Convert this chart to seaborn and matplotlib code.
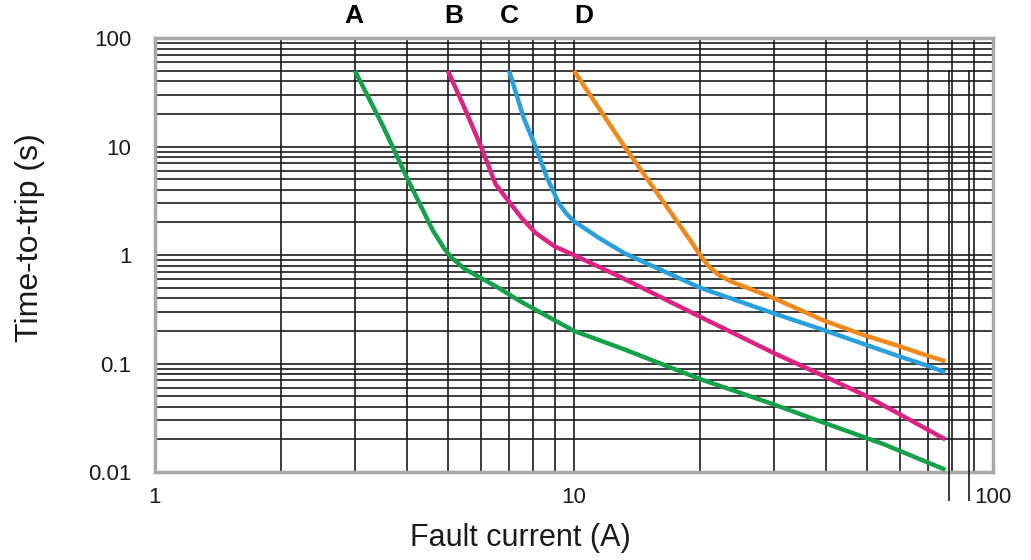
import matplotlib
matplotlib.use("Agg")
import matplotlib.pyplot as plt
import matplotlib.ticker as ticker
import seaborn as sns
import pandas as pd

# trip curves (current in A, time in s)
a_current = [3, 3.5, 4, 4.6, 4.9, 5.1, 5.5, 6.6, 7.4, 10, 13.2, 20, 30, 40, 55, 77]
a_time = [50, 15.5, 5.1, 1.7, 1.15, 0.95, 0.74, 0.5, 0.38, 0.2, 0.135, 0.072, 0.042, 0.028, 0.018, 0.0105]

b_current = [5, 5.5, 6, 6.5, 7, 7.5, 8.1, 9, 10, 13, 20, 30, 40, 50, 60, 77]
b_time = [50, 22, 10, 4.5, 3.1, 2.2, 1.6, 1.2, 1.0, 0.62, 0.27, 0.125, 0.075, 0.05, 0.034, 0.02]

c_current = [7, 7.6, 8.1, 8.6, 9.2, 9.6, 10, 11.5, 13.2, 20, 30, 40, 50, 60, 70, 77]
c_time = [50, 18, 10, 5.3, 3.0, 2.4, 2.05, 1.43, 1.04, 0.5, 0.29, 0.2, 0.148, 0.116, 0.095, 0.083]

d_current = [10, 13.2, 19, 20, 20.9, 22.1, 23.7, 29.6, 39.4, 49, 59, 69, 77]
d_time = [50, 10, 1.35, 1.0, 0.8, 0.66, 0.57, 0.41, 0.25, 0.184, 0.147, 0.12, 0.105]

curve_names = ["A", "B", "C", "D"]
curve_colors = {"A": "#17a04b", "B": "#dc2382", "C": "#2b9fdb", "D": "#f0891d"}

y_ticks = [0.01, 0.1, 1, 10, 100]
y_labels = ["0.01", "0.1", "1", "10", "100"]
x_ticks = [1, 10, 100]
x_labels = ["1", "10", "100"]

# the two stray vertical lines on the right of the original
stray_x = [78.5, 87.5]
stray_span = [0.0054, 51]

frames = []
for name, xs, ys in zip(curve_names,
                        [a_current, b_current, c_current, d_current],
                        [a_time, b_time, c_time, d_time]):
    frames.append(pd.DataFrame({"current": xs, "time": ys, "curve": name}))
df = pd.concat(frames, ignore_index=True)

sns.set_style("white")
plt.rcParams['font.family'] = ['Liberation Sans', 'DejaVu Sans']

fig = plt.figure(figsize=(10.31, 5.6), dpi=100)
ax = fig.add_axes([0.1503, 0.157, 0.8128, 0.775])

sns.lineplot(data=df, x="current", y="time", hue="curve", palette=curve_colors,
             estimator=None, sort=False, linewidth=3.2, legend=False, ax=ax, zorder=5)
for ln in ax.lines:
    ln.set_solid_joinstyle("round")
    ln.set_solid_capstyle("butt")

ax.set_xscale("log")
ax.set_yscale("log")
ax.set_xlim(1, 100)
ax.set_ylim(0.01, 100)

ax.set_xticks(x_ticks, x_labels)
ax.set_yticks(y_ticks, y_labels)
ax.xaxis.set_minor_locator(ticker.LogLocator(base=10, subs=range(2, 10)))
ax.yaxis.set_minor_locator(ticker.LogLocator(base=10, subs=range(2, 10)))
ax.xaxis.set_minor_formatter(ticker.NullFormatter())
ax.yaxis.set_minor_formatter(ticker.NullFormatter())

ax.grid(which="both", color="#1a1a1a", linewidth=1.2)
ax.set_axisbelow(True)

ax.tick_params(axis="x", which="both", length=0, pad=11, labelsize=16, labelcolor="#1a1a1a")
ax.tick_params(axis="y", which="major", direction="in", length=7, width=1.5,
               color="#aaaaaa", pad=17, labelsize=16, labelcolor="#1a1a1a")
ax.tick_params(axis="y", which="minor", length=0)

for sp in ax.spines.values():
    sp.set_color("#a8a8a8")
    sp.set_linewidth(2.5)

ax.vlines(stray_x, stray_span[0], stray_span[1], color="#1a1a1a", linewidth=1.2,
          clip_on=False, zorder=3)

# curve letters above the frame (the original nudges them a little)
letter_nudge = [-1, 4, 0, 7]
for name, xs, dx in zip(curve_names, [a_current, b_current, c_current, d_current], letter_nudge):
    ax.annotate(name, xy=(xs[0], 1.0), xycoords=("data", "axes fraction"),
                xytext=(dx, 16), textcoords="offset points", ha="center", va="center",
                fontsize=19, fontweight="bold", color="black")

ax.set_xlabel("")
ax.set_ylabel("")
fig.text(520 / 1031, 1 - 538 / 560, "Fault current (A)", ha="center", va="center",
         fontsize=22, color="#1a1a1a")
fig.text(30 / 1031, 1 - 238 / 560, "Time-to-trip (s)", ha="center", va="center",
         rotation=90, fontsize=23, color="#1a1a1a")

fig.savefig("out.png", dpi=100)
